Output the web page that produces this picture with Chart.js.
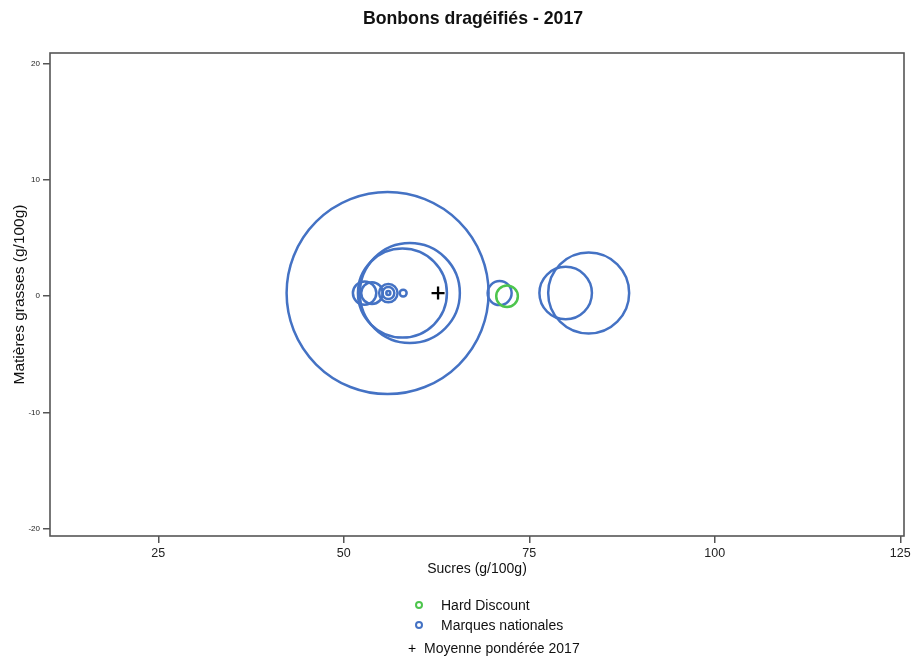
<!DOCTYPE html>
<html>
<head>
<meta charset="utf-8">
<script src="https://cdn.jsdelivr.net/npm/chart.js@4.4.0/dist/chart.umd.min.js"></script>
<style>
  body { margin: 0; background: #fff; font-family: "Liberation Sans", Arial, sans-serif; }
  #wrap { position: relative; width: 914px; height: 661px; }
  #titre { position: absolute; top: 8px; left: 32px; width: 882px; text-align: center;
           font-weight: bold; font-size: 17.7px; color: #111; }
  .item { position: absolute; white-space: nowrap; line-height: 16px; font-size: 14px; color: #111; }
  .rond { position: absolute; width: 4px; height: 4px; border: 2px solid; border-radius: 50%; }
  .croix { position: absolute; font-size: 14px; line-height: 16px; color: #000; }
</style>
</head>
<body>
<div id="wrap">
  <canvas id="graphe" width="914" height="661"></canvas>
  <div id="titre">Bonbons dragéifiés - 2017</div>
  <div id="legende"></div>
</div>
<script>
const seriesNoms = ['Hard Discount', 'Marques nationales', 'Moyenne pondérée 2017'];

// Hard Discount
const hdSucres = [72.0];
const hdGras = [0.0];
const hdPoids = [1.17];

// Marques nationales
const mnSucres = [55.9, 58.9, 57.9, 52.8, 53.8, 56.0, 56.0, 56.0, 58.0, 71.0, 79.9, 83.0];
const mnGras = [0.27, 0.27, 0.27, 0.27, 0.27, 0.27, 0.27, 0.27, 0.27, 0.27, 0.27, 0.27];
const mnPoids = [102, 25, 19.8, 1.37, 1.17, 0.85, 0.36, 0.04, 0.12, 1.44, 6.9, 16.4];

// Moyenne pondérée
const moySucres = [62.7];
const moyGras = [0.27];

const xTicks = [25, 50, 75, 100, 125];
const yTicks = [-20, -10, 0, 10, 20];

const bleu = '#4472c4';
const vert = '#4dc54d';

function bulles(xs, ys, ws) {
    return xs.map((x, i) => ({x: x, y: ys[i], r: 10 * Math.sqrt(ws[i])}));
}

const cadre = {
    id: 'cadre',
    beforeDatasetsDraw(chart) {
        const a = chart.chartArea;
        const ctx = chart.ctx;
        ctx.save();
        ctx.strokeStyle = '#555';
        ctx.lineWidth = 1.6;
        ctx.strokeRect(a.left, a.top, a.right - a.left, a.bottom - a.top);
        ctx.restore();
    }
};

const canv = document.getElementById('graphe').getContext('2d');
const graph = new Chart(canv, {
    type: 'bubble',
    data: {
        datasets: [{
            label: seriesNoms[0],
            data: bulles(hdSucres, hdGras, hdPoids),
            borderColor: vert,
            backgroundColor: 'rgba(0,0,0,0)',
            borderWidth: 2.5
        }, {
            label: seriesNoms[1],
            data: bulles(mnSucres, mnGras, mnPoids),
            borderColor: bleu,
            backgroundColor: 'rgba(0,0,0,0)',
            borderWidth: 2.5
        }, {
            label: seriesNoms[2],
            data: moySucres.map((x, i) => ({x: x, y: moyGras[i]})),
            pointStyle: 'cross',
            radius: 6.5,
            borderColor: '#000',
            backgroundColor: '#000',
            borderWidth: 2.3
        }]
    },
    options: {
        responsive: false,
        animation: false,
        events: [],
        layout: {
            autoPadding: false,
            padding: {left: 0, right: 10, top: 53, bottom: 80}
        },
        plugins: {
            legend: { display: false },
            title: { display: false },
            tooltip: { enabled: false }
        },
        scales: {
            x: {
                type: 'linear',
                min: 10.4,
                max: 125.5,
                afterBuildTicks: (s) => { s.ticks = xTicks.map(v => ({value: v})); },
                afterFit: (s) => { s.height = 45; },
                border: { display: false },
                grid: { display: true, drawOnChartArea: false, drawTicks: true, tickLength: 7, color: '#555', lineWidth: 1.5 },
                ticks: { color: '#222', padding: 3, font: { family: 'Liberation Sans', size: 12.5 }, maxRotation: 0 },
                title: {
                    display: true,
                    text: 'Sucres (g/100g)',
                    color: '#111',
                    font: { family: 'Liberation Sans', size: 14 },
                    padding: { top: 0, bottom: 3 }
                }
            },
            y: {
                type: 'linear',
                min: -20.6,
                max: 20.9,
                afterBuildTicks: (s) => { s.ticks = yTicks.map(v => ({value: v})); },
                afterFit: (s) => { s.width = 50; },
                border: { display: false },
                grid: { display: true, drawOnChartArea: false, drawTicks: true, tickLength: 7, color: '#555', lineWidth: 1.5 },
                ticks: { color: '#222', padding: 3, font: { family: 'Liberation Sans', size: 8 } },
                title: {
                    display: true,
                    text: 'Matières grasses (g/100g)',
                    color: '#111',
                    font: { family: 'Liberation Sans', size: 15.5 },
                    padding: { top: 10, bottom: 0 }
                }
            }
        }
    },
    plugins: [cadre]
});

// légende
const rangs = [{y: 597, x: 441}, {y: 617, x: 441}, {y: 640, x: 424}];
const leg = document.getElementById('legende');
graph.data.datasets.forEach((ds, i) => {
    const r = rangs[i];
    if (ds.pointStyle === 'cross') {
        const c = document.createElement('span');
        c.className = 'croix';
        c.style.left = '408px';
        c.style.top = r.y + 'px';
        c.textContent = '+';
        leg.appendChild(c);
    } else {
        const m = document.createElement('span');
        m.className = 'rond';
        m.style.borderColor = ds.borderColor;
        m.style.left = '415px';
        m.style.top = (r.y + 4) + 'px';
        leg.appendChild(m);
    }
    const t = document.createElement('div');
    t.className = 'item';
    t.style.left = r.x + 'px';
    t.style.top = r.y + 'px';
    t.textContent = ds.label;
    leg.appendChild(t);
});
</script>
</body>
</html>
